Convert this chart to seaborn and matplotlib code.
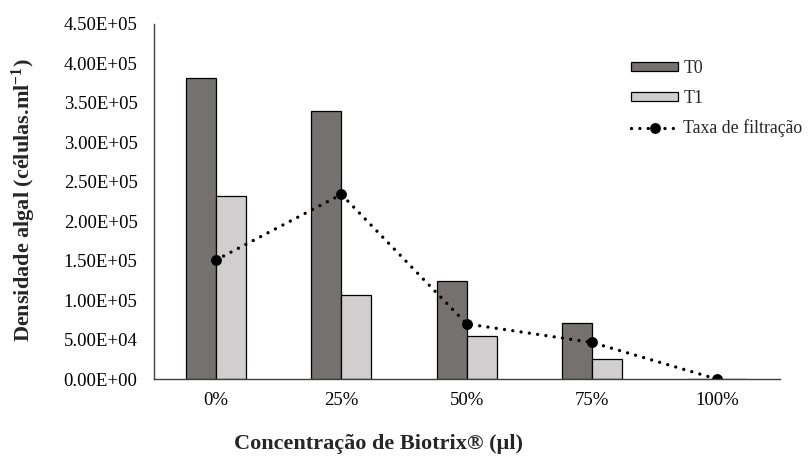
import matplotlib
matplotlib.use("Agg")
import matplotlib.pyplot as plt
import seaborn as sns
import pandas as pd
from matplotlib.ticker import FuncFormatter

# Data
concentracoes = ["0%", "25%", "50%", "75%", "100%"]
t0 = [3.82e5, 3.40e5, 1.24e5, 7.1e4, 0.0]
t1 = [2.32e5, 1.07e5, 5.45e4, 2.6e4, 0.0]
taxa_filtracao = [1.51e5, 2.34e5, 7.0e4, 4.65e4, 0.0]

sns.set_theme(style="white")
plt.rcParams["font.family"] = ["Liberation Serif", "DejaVu Serif"]
plt.rcParams["mathtext.fontset"] = "custom"
plt.rcParams["mathtext.rm"] = "Liberation Serif"
plt.rcParams["mathtext.bf"] = "Liberation Serif:bold"

bars = pd.DataFrame({
    "conc": concentracoes * 2,
    "valor": t0 + t1,
    "serie": ["T0"] * len(t0) + ["T1"] * len(t1),
})
linha = pd.DataFrame({"conc": concentracoes, "taxa": taxa_filtracao})

fig = plt.figure(figsize=(8.08, 4.59), dpi=100)
ax = fig.add_axes([0.190, 0.174, 0.775, 0.774])

sns.barplot(data=bars, x="conc", y="valor", hue="serie", order=concentracoes,
            palette={"T0": "#767171", "T1": "#D0CECE"}, width=0.48,
            edgecolor="black", linewidth=0.9, saturation=1, errorbar=None,
            ax=ax)

sns.pointplot(data=linha, x="conc", y="taxa", order=concentracoes,
              color="black", errorbar=None, ax=ax,
              linestyle=(0, (0.01, 2.5)), linewidth=2.4,
              marker="o", markersize=6, label="Taxa de filtração")
for ln in ax.lines:
    ln.set_dash_capstyle("round")

ax.set_xlim(-0.5, 4.5)
ax.set_ylim(0, 4.5e5)
ax.set_yticks([i * 5e4 for i in range(10)])
ax.yaxis.set_major_formatter(FuncFormatter(lambda v, p: f"{v:.2E}"))
ax.tick_params(axis="both", length=0, labelsize=13.5, colors="black")
ax.tick_params(axis="y", pad=11.5)
ax.tick_params(axis="x", pad=9)
ax.set_xlabel("")
ax.set_ylabel("")
sns.despine(ax=ax)
for s in ("left", "bottom"):
    ax.spines[s].set_color("#404040")
    ax.spines[s].set_linewidth(1.0)

handles, labels = ax.get_legend_handles_labels()
ax.legend(handles=handles, labels=labels, loc="upper left",
          bbox_to_anchor=(631 / 808, 1 - 60 / 459), bbox_transform=fig.transFigure,
          frameon=False, fontsize=12.8, handlelength=2.65, handleheight=0.45,
          handletextpad=0.3, labelspacing=0.72, numpoints=1, borderaxespad=0,
          borderpad=0)

fig.text(379 / 808, 1 - 444 / 459, "Concentração de Biotrix® (µl)",
         ha="center", va="center", fontsize=16, fontweight="bold")
fig.text(24 / 808, 1 - 200 / 459, r"Densidade algal (células.ml$\mathbf{^{-1}}$)",
         ha="center", va="center", rotation=90, fontsize=16, fontweight="bold")

fig.savefig("out.png", dpi=100)
